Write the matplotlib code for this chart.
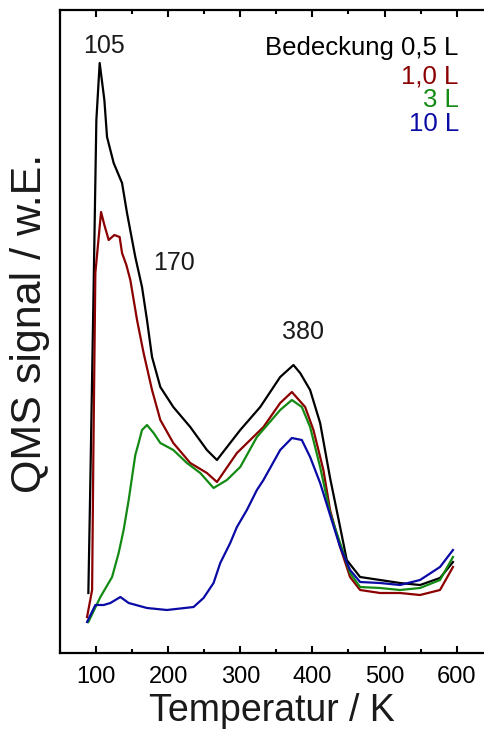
import numpy as np
import matplotlib
matplotlib.use("Agg")
import matplotlib.pyplot as plt
from matplotlib.ticker import MultipleLocator

plt.rcParams['font.family'] = ['Liberation Sans', 'DejaVu Sans']

# TPD-Spektren, Signal in willkürlichen Einheiten
T_05 = [89.3, 92.1, 96.3, 100.4, 105.0, 111.5, 115.2, 124.4, 136.0, 142.9, 154.4,
        163.7, 170.6, 177.6, 189.1, 207.1, 230.6, 253.7, 267.6, 299.9, 327.6, 355.3,
        373.7, 383.0, 396.8, 410.7, 424.5, 438.4, 447.6, 466.1, 493.8, 521.5, 549.2,
        576.9, 594.9]
S_05 = [60, 173, 353, 533, 590, 553, 516, 490, 470, 440, 396,
        366, 333, 296, 266, 246, 226, 203, 193, 223, 246, 276,
        288, 280, 263, 230, 175, 126, 93, 76, 73, 70, 68,
        75, 91]

T_10 = [87.5, 94.5, 96.3, 99.0, 106.9, 111.5, 117.5, 125.3, 132.7, 136.0, 142.0,
        147.5, 156.8, 165.9, 177.6, 189.1, 207.1, 230.6, 253.7, 267.6, 295.3, 332.1,
        355.3, 371.5, 389.9, 401.4, 415.2, 424.5, 438.4, 452.2, 466.1, 493.8, 521.5,
        549.2, 576.9, 594.9]
S_10 = [36, 63, 203, 380, 441, 428, 413, 418, 416, 400, 388,
        373, 333, 300, 263, 233, 210, 190, 180, 171, 200, 226,
        250, 261, 246, 223, 183, 143, 106, 76, 63, 60, 60,
        58, 63, 86]

T_3 = [89.3, 106.0, 122.2, 131.3, 138.2, 145.2, 150.3, 154.4, 159.0, 163.7, 170.6,
       179.8, 189.1, 207.1, 226.0, 244.5, 262.9, 281.4, 299.9, 323.0, 355.3, 371.5,
       385.3, 396.8, 410.7, 424.5, 438.4, 452.2, 466.1, 493.8, 521.5, 549.2, 576.9,
       594.9]
S_3 = [31, 56, 76, 100, 123, 153, 178, 198, 210, 223, 228,
       220, 210, 203, 190, 180, 165, 173, 186, 216, 243, 253,
       246, 226, 186, 140, 110, 80, 66, 65, 63, 65, 73,
       96]

T_100 = [87.5, 99.0, 110.5, 119.8, 133.7, 145.2, 170.6, 198.3, 235.2, 249.0, 262.9,
         272.2, 286.0, 295.3, 309.1, 323.0, 332.1, 355.3, 371.5, 385.3, 396.8, 410.7,
         424.5, 438.4, 452.2, 466.1, 493.8, 521.5, 549.2, 576.9, 594.9]
S_100 = [31, 48, 48, 50, 56, 50, 45, 43, 46, 55, 70,
         90, 110, 126, 143, 163, 173, 203, 215, 213, 196, 170,
         138, 106, 83, 71, 70, 68, 73, 86, 103]

labels = ["Bedeckung 0,5 L", "1,0 L", "3 L", "10 L"]
colors = ["#000000", "#8b0000", "#138a13", "#0a0aa5"]

peaks = [105, 170, 380]
peak_pos = [(111.5, 607), (208.4, 390), (386.4, 321)]

fig = plt.figure(figsize=(4.84, 7.31), dpi=100)
ax = fig.add_axes([0.124, 0.1067, 0.894, 0.8796])

series = [(T_05, S_05), (T_10, S_10), (T_3, S_3), (T_100, S_100)]
for (t, s), c in zip(series, colors):
    ax.plot(t, s, color=c, lw=1.6)

for p, (px, py) in zip(peaks, peak_pos):
    ax.text(px, py, str(p), fontsize=18, ha='center', va='center', color='#1a1a1a')

leg_y = [605, 577, 553, 529]
for lab, c, y in zip(labels, colors, leg_y):
    ax.text(603, y, lab, fontsize=18.5, ha='right', va='center', color=c)

ax.set_xlim(50, 650)
ax.set_ylim(0, 643)
ax.xaxis.set_major_locator(MultipleLocator(100))
ax.xaxis.set_minor_locator(MultipleLocator(50))
ax.set_xticks([100, 200, 300, 400, 500, 600])
ax.set_yticks([])
ax.tick_params(axis='x', which='both', direction='in', top=True, labelsize=17,
               width=1.5, pad=9)
ax.tick_params(axis='x', which='major', length=5)
ax.tick_params(axis='x', which='minor', length=3)
for sp in ax.spines.values():
    sp.set_linewidth(1.6)

fig.text(271.5 / 484, 1 - 711 / 731, "Temperatur / K", fontsize=27,
         ha='center', va='center', color='#1a1a1a')
fig.text(30 / 484, 1 - 323 / 731, "QMS signal / w.E.", fontsize=31,
         rotation=90, ha='center', va='center', color='#1a1a1a')

fig.savefig("out.png", dpi=100)
